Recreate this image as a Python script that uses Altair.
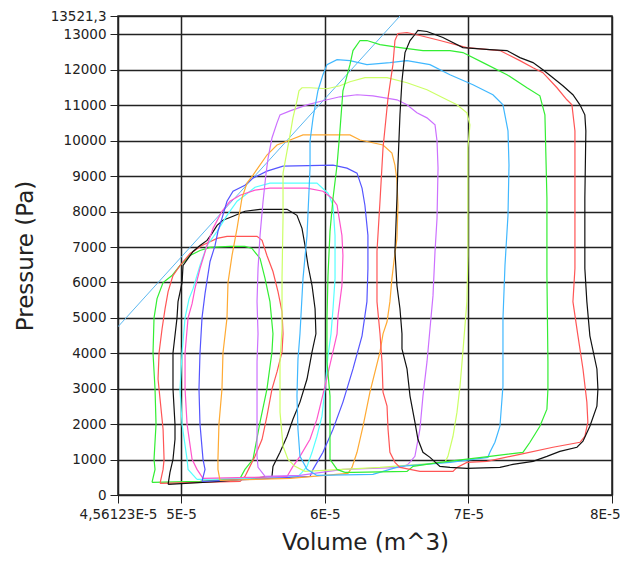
import altair as alt
import pandas as pd

# Volumes are given in units of 1E-5 m^3, pressures in Pa
loop_names = ["L1", "L2", "L3", "L4", "L5", "L6", "L7", "L8", "L9", "L10", "L11", "L12", "L13"]
loop_colors = ["#33EE33", "#FF5555", "#111111", "#55FFFF", "#FF55CC", "#5555FF", "#FFAA33",
               "#CC70FF", "#CCFF66", "#40B8FF", "#33EE33", "#FF5555", "#111111"]

l1_v = [4.798, 4.819, 4.812, 4.826, 4.819, 4.805, 4.812, 4.833, 4.875, 4.937, 4.993, 5.063, 5.132, 5.202, 5.341, 5.445, 5.494, 5.550, 5.585, 5.619, 5.640, 5.633, 5.598, 5.550, 5.501, 5.445, 5.411, 5.132, 4.798]
l1_p = [354, 723, 1006, 2000, 2991, 4010, 5000, 5543, 5996, 6195, 6478, 6762, 6903, 6988, 7017, 7017, 6960, 6677, 6109, 5458, 4550, 4040, 2991, 2055, 1006, 723, 470, 383, 354]

l2_v = [4.854, 4.875, 4.882, 4.875, 4.854, 4.840, 4.847, 4.868, 4.889, 4.910, 4.944, 4.993, 5.063, 5.146, 5.251, 5.320, 5.529, 5.564, 5.598, 5.640, 5.675, 5.703, 5.710, 5.703, 5.668, 5.633, 5.598, 5.564, 5.515, 5.480, 5.445, 5.411, 5.132, 4.854]
l2_p = [326, 723, 1006, 1857, 2707, 3274, 4010, 4692, 5259, 5741, 6195, 6478, 6818, 7045, 7243, 7300, 7300, 7187, 6762, 6308, 5741, 5174, 4550, 4040, 3473, 2991, 2225, 1573, 1091, 808, 524, 383, 354, 326]

l3_v = [4.910, 4.923, 4.944, 4.958, 4.958, 4.944, 4.944, 4.972, 4.979, 5.007, 5.014, 5.049, 5.084, 5.132, 5.181, 5.216, 5.251, 5.292, 5.362, 5.445, 5.550, 5.738, 5.807, 5.842, 5.863, 5.884, 5.912, 5.933, 5.939, 5.912, 5.877, 5.828, 5.779, 5.738, 5.689, 5.640, 5.633, 5.271, 4.910]
l3_p = [298, 638, 1006, 1573, 2000, 2991, 4010, 5000, 5458, 5996, 6478, 6677, 6875, 7045, 7187, 7385, 7612, 7754, 7867, 8009, 8065, 8065, 7895, 7527, 7045, 6478, 5911, 5259, 4550, 4040, 3274, 2622, 2140, 1658, 1205, 808, 524, 383, 298]

l4_v = [5.111, 5.049, 5.042, 5.007, 4.993, 5.007, 5.028, 5.056, 5.084, 5.132, 5.181, 5.251, 5.320, 5.390, 5.445, 5.515, 5.619, 5.946, 6.023, 6.058, 6.072, 6.072, 6.058, 6.044, 6.023, 6.002, 5.981, 5.946, 5.912, 5.877, 5.842, 5.814, 5.480, 5.111]
l4_p = [439, 723, 1006, 2000, 2991, 4010, 5000, 5543, 5826, 6478, 7045, 7442, 7895, 8292, 8462, 8689, 8803, 8803, 8519, 8179, 7328, 6109, 5259, 4550, 3926, 2991, 2225, 1658, 1205, 808, 638, 524, 468, 439]

l5_v = [5.153, 5.111, 5.077, 5.042, 5.028, 5.028, 5.049, 5.077, 5.097, 5.132, 5.181, 5.223, 5.285, 5.341, 5.411, 5.515, 5.619, 5.877, 5.988, 6.051, 6.086, 6.120, 6.127, 6.120, 6.093, 6.086, 6.051, 6.002, 5.946, 5.898, 5.828, 5.779, 5.738, 5.480, 5.153]
l5_p = [468, 723, 1006, 2000, 2991, 4010, 5000, 5401, 5826, 6393, 7045, 7527, 8009, 8292, 8462, 8604, 8661, 8661, 8576, 8377, 8179, 7328, 6762, 5911, 5061, 4550, 3926, 3076, 2140, 1573, 1091, 808, 524, 496, 468]

l6_v = [5.146, 5.167, 5.153, 5.132, 5.125, 5.132, 5.146, 5.167, 5.202, 5.237, 5.257, 5.285, 5.320, 5.362, 5.445, 5.501, 5.598, 5.710, 6.058, 6.155, 6.225, 6.260, 6.280, 6.301, 6.301, 6.294, 6.260, 6.197, 6.127, 6.058, 5.988, 5.919, 5.898, 5.480, 5.146]
l6_p = [383, 723, 1006, 2000, 2991, 4010, 5000, 5684, 6592, 7045, 7442, 7810, 8292, 8576, 8746, 8945, 9143, 9285, 9313, 9228, 9086, 8661, 8179, 7328, 6393, 5458, 4494, 3558, 2622, 1857, 1205, 723, 524, 439, 383]

l7_v = [5.271, 5.257, 5.257, 5.264, 5.285, 5.292, 5.320, 5.327, 5.355, 5.390, 5.424, 5.459, 5.501, 5.598, 5.668, 5.759, 5.849, 6.176, 6.246, 6.406, 6.468, 6.489, 6.503, 6.510, 6.503, 6.482, 6.468, 6.454, 6.434, 6.406, 6.385, 6.315, 6.267, 6.225, 6.190, 6.162, 5.759, 5.271]
l7_p = [411, 723, 1006, 2000, 2991, 4010, 5000, 5996, 6762, 7527, 8377, 8803, 9030, 9597, 9880, 10022, 10164, 10164, 10022, 9880, 9653, 9313, 8888, 8179, 7243, 6592, 6109, 5458, 4890, 4550, 4040, 2906, 1942, 1205, 780, 610, 468, 411]

l8_v = [5.585, 5.536, 5.529, 5.529, 5.529, 5.536, 5.529, 5.536, 5.550, 5.571, 5.592, 5.606, 5.633, 5.668, 5.689, 5.759, 5.877, 5.988, 6.106, 6.225, 6.336, 6.503, 6.573, 6.642, 6.712, 6.768, 6.782, 6.789, 6.782, 6.768, 6.754, 6.733, 6.712, 6.684, 6.663, 6.628, 6.580, 6.538, 6.127, 5.828, 5.585]
l8_p = [524, 780, 1091, 2339, 3756, 4550, 5458, 6393, 7328, 8292, 9086, 9511, 10079, 10504, 10731, 10844, 11014, 11128, 11241, 11298, 11269, 11156, 11014, 10788, 10646, 10447, 9994, 9228, 7810, 6875, 5628, 4692, 3756, 2792, 1857, 1091, 865, 780, 723, 553, 524]

l9_v = [5.863, 5.793, 5.745, 5.710, 5.689, 5.689, 5.703, 5.703, 5.710, 5.710, 5.738, 5.759, 5.779, 5.807, 5.821, 5.842, 5.898, 6.016, 6.106, 6.176, 6.280, 6.434, 6.573, 6.712, 6.823, 6.921, 6.990, 7.011, 6.997, 6.997, 6.997, 6.990, 6.962, 6.942, 6.921, 6.893, 6.858, 6.837, 6.385, 5.863]
l9_p = [666, 808, 1006, 1375, 2339, 3756, 4692, 6109, 7810, 9086, 9710, 10164, 10646, 11128, 11411, 11496, 11496, 11468, 11553, 11666, 11780, 11780, 11638, 11439, 11213, 11014, 10788, 10447, 9795, 8377, 6762, 5458, 4040, 3076, 2339, 1658, 1091, 921, 780, 666]

l10_v = [5.946, 5.877, 5.828, 5.814, 5.807, 5.814, 5.828, 5.849, 5.877, 5.898, 5.898, 5.919, 5.953, 5.988, 6.016, 6.086, 6.176, 6.294, 6.454, 6.573, 6.733, 6.872, 7.032, 7.171, 7.241, 7.276, 7.283, 7.276, 7.255, 7.241, 7.241, 7.220, 7.185, 7.150, 7.136, 6.872, 6.524, 6.336, 5.946]
l10_p = [553, 723, 1091, 1857, 2792, 3841, 4550, 6109, 7328, 9228, 9994, 10646, 11411, 11865, 12148, 12290, 12262, 12148, 12205, 12262, 12148, 11865, 11581, 11298, 11014, 10277, 9313, 7895, 6478, 4975, 3076, 1942, 1488, 1205, 1063, 921, 808, 581, 553]

l11_v = [6.141, 6.086, 6.037, 6.037, 6.037, 6.016, 6.016, 6.023, 6.037, 6.058, 6.086, 6.106, 6.127, 6.176, 6.197, 6.246, 6.294, 6.385, 6.524, 6.684, 6.872, 6.962, 7.102, 7.269, 7.408, 7.498, 7.533, 7.547, 7.547, 7.554, 7.554, 7.547, 7.498, 7.429, 7.380, 7.150, 6.802, 6.615, 6.573, 6.197, 6.141]
l11_p = [638, 723, 1006, 2225, 2792, 3756, 4975, 6195, 7442, 8377, 9313, 10277, 11411, 12148, 12545, 12829, 12829, 12715, 12630, 12545, 12545, 12489, 12205, 11865, 11496, 11269, 10731, 8377, 6195, 3756, 2991, 2424, 1942, 1488, 1205, 1091, 921, 808, 666, 638, 638]

l12_v = [6.524, 6.489, 6.454, 6.441, 6.434, 6.406, 6.399, 6.385, 6.364, 6.364, 6.385, 6.406, 6.441, 6.475, 6.489, 6.510, 6.573, 6.663, 6.802, 6.990, 7.220, 7.359, 7.450, 7.519, 7.617, 7.686, 7.721, 7.742, 7.742, 7.742, 7.728, 7.763, 7.798, 7.825, 7.832, 7.811, 7.777, 7.589, 7.359, 7.129, 6.990, 6.921, 6.893, 6.663, 6.524]
l12_p = [780, 921, 1205, 1857, 2509, 2906, 3756, 4550, 5458, 6875, 8292, 9795, 11213, 12148, 12829, 13027, 13056, 12971, 12829, 12630, 12545, 12262, 12063, 11921, 11496, 11156, 11014, 10277, 8377, 6393, 5458, 4494, 3558, 2622, 2055, 1658, 1488, 1347, 1148, 950, 921, 780, 666, 666, 780]

l13_v = [6.872, 6.802, 6.733, 6.684, 6.649, 6.628, 6.594, 6.573, 6.538, 6.538, 6.524, 6.503, 6.489, 6.503, 6.510, 6.524, 6.538, 6.559, 6.594, 6.628, 6.649, 6.712, 6.823, 6.962, 7.150, 7.269, 7.359, 7.450, 7.519, 7.589, 7.658, 7.728, 7.777, 7.811, 7.818, 7.811, 7.811, 7.825, 7.846, 7.895, 7.902, 7.895, 7.846, 7.798, 7.756, 7.637, 7.547, 7.450, 7.310, 7.220, 6.990, 6.872]
l13_p = [780, 808, 1063, 1205, 1573, 2055, 2792, 3558, 4125, 4550, 5259, 5911, 6875, 8377, 9313, 10731, 11695, 12489, 12829, 12999, 13112, 13084, 12914, 12630, 12573, 12545, 12347, 12205, 12006, 11780, 11553, 11298, 11014, 10731, 10277, 8377, 6393, 5458, 4494, 3558, 2991, 2509, 1942, 1517, 1347, 1233, 1091, 950, 865, 780, 751, 780]

# end-systolic pressure-volume line
espvr_v = [4.56123, 6.524]
espvr_p = [4750, 13521.3]

x_ticks = [4.56123e-5, 5e-5, 6e-5, 7e-5, 8e-5]
y_ticks = [0, 1000, 2000, 3000, 4000, 5000, 6000, 7000, 8000, 9000, 10000, 11000, 12000, 13000, 13521.3]

loops_v = [l1_v, l2_v, l3_v, l4_v, l5_v, l6_v, l7_v, l8_v, l9_v, l10_v, l11_v, l12_v, l13_v]
loops_p = [l1_p, l2_p, l3_p, l4_p, l5_p, l6_p, l7_p, l8_p, l9_p, l10_p, l11_p, l12_p, l13_p]

rows = []
for name, vs, ps in zip(loop_names, loops_v, loops_p):
    for j, (v, p) in enumerate(zip(vs, ps)):
        rows.append({"loop": name, "order": j, "volume": v * 1e-5, "pressure": p})
df = pd.DataFrame(rows)

line_df = pd.DataFrame({"volume": [v * 1e-5 for v in espvr_v], "pressure": espvr_p,
                        "order": list(range(len(espvr_v)))})

font = "DejaVu Sans"

x_enc = alt.X("volume:Q",
              scale=alt.Scale(domain=[4.56123e-5, 8e-5], nice=False, zero=False),
              axis=alt.Axis(values=x_ticks, title="Volume (m^3)",
                            labelExpr="datum.value < 4.7e-5 ? '4,56123E-5' : format(datum.value*1e5, '.0f') + 'E-5'",
                            labelFlush=False, labelOverlap=False,
                            labelAlign=alt.ExprRef(expr="datum.value > 7.9e-5 ? 'right' : 'center'"),
                            labelOffset=alt.ExprRef(expr="datum.value > 7.9e-5 ? 8 : 0"),
                            titleX=247, titleY=54, titleBaseline="alphabetic", titleAnchor="middle"))
y_enc = alt.Y("pressure:Q",
              scale=alt.Scale(domain=[0, 13521.3], nice=False, zero=False),
              axis=alt.Axis(values=y_ticks, title="Pressure (Pa)",
                            labelExpr="datum.value > 13500 ? '13521,3' : format(datum.value, 'd')",
                            labelOverlap=False, labelFlush=False,
                            titleX=-86, titleY=239.5, titleAngle=-90, titleAlign="center",
                            titleBaseline="alphabetic"))

espvr = alt.Chart(line_df).mark_line(color="#5CB8F0", strokeWidth=1, clip=True).encode(
    x=x_enc, y=y_enc, order="order:Q")

loops = alt.Chart(df).mark_line(strokeWidth=1.2, clip=True).encode(
    x=x_enc, y=y_enc,
    color=alt.Color("loop:N", scale=alt.Scale(domain=loop_names, range=loop_colors), legend=None),
    detail="loop:N",
    order="order:Q")

chart = alt.layer(espvr, loops).properties(
    width=494, height=479,
    autosize=alt.AutoSizeParams(type="none"),
    padding={"left": 110, "top": 8, "right": 8, "bottom": 60},
    background="white",
).configure_view(
    stroke="#222222", strokeWidth=1.5
).configure_axis(
    grid=True, gridColor="#222222", gridWidth=1.5, gridOpacity=1,
    domain=False,
    ticks=True, tickColor="#222222", tickSize=8, tickWidth=1,
    labelFont=font, labelFontSize=13.5, labelColor="#222222", labelPadding=4,
    titleFont=font, titleFontSize=23, titleFontWeight="normal", titleColor="#222222",
)

chart.save("out.html", embed_options={"renderer": "svg", "actions": False})
